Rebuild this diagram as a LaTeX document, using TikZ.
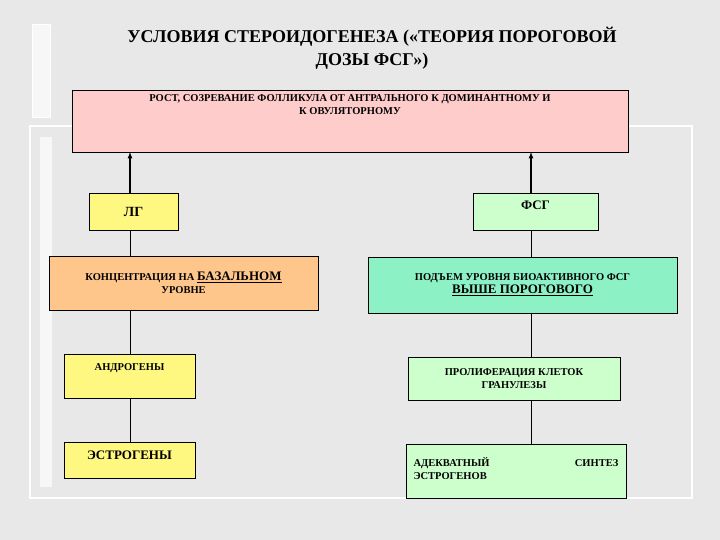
\documentclass[tikz,border=0pt]{standalone}
\usepackage{fontspec}
\setmainfont{Liberation Serif}
\definecolor{aqua}{HTML}{8CF2C6}
\begin{document}
\begin{tikzpicture}[x=1pt,y=-1pt,
  box/.style={draw=black,line width=0.9pt,font=\bfseries\fontsize{10.5}{13}\selectfont,align=center,inner sep=2pt},
  link/.style={line width=0.7pt},
  arr/.style={line width=1.2pt,-latex}]
\fill[gray!18] (0,0) rectangle (720,540);
\useasboundingbox (0,0) rectangle (720,540);
\draw[white,line width=1.2pt] (30,126) rectangle (692,498);
\fill[white!70!gray!20] (32,25) rectangle (50,118);
\draw[white,line width=1pt] (32,25) rectangle (50,118);
\fill[white!70!gray!20] (40,137) rectangle (52,487);
\node[font=\bfseries\fontsize{18}{23}\selectfont,align=center] (title) at (372,48)
  {УСЛОВИЯ СТЕРОИДОГЕНЕЗА («ТЕОРИЯ ПОРОГОВОЙ\\ДОЗЫ ФСГ»)};
\path[box,fill=red!20] (72,90) rectangle (628,152);
\node[box,draw=none,anchor=north] (top) at (350,92) {РОСТ, СОЗРЕВАНИЕ ФОЛЛИКУЛА ОТ АНТРАЛЬНОГО К ДОМИНАНТНОМУ И\\К ОВУЛЯТОРНОМУ};
\coordinate (topL) at (130,152);
\coordinate (topR) at (531,152);
\node[box,fill=yellow!50,minimum width=89pt,minimum height=37pt,font=\bfseries\fontsize{14}{16}\selectfont] (lg) at (133.5,211.5) {ЛГ};
\node[box,fill=green!20,minimum width=125pt,minimum height=37pt,font=\bfseries\fontsize{13}{15}\selectfont,text depth=12pt] (fsg) at (535.5,211.5) {ФСГ};
\node[box,fill=orange!45,minimum width=269pt,minimum height=54pt] (conc) at (183.5,283) {КОНЦЕНТРАЦИЯ НА {\fontsize{13}{15}\selectfont\underline{БАЗАЛЬНОМ}}\\УРОВНЕ};
\node[box,fill=aqua,minimum width=309pt,minimum height=56pt] (rise) at (522.5,285) {ПОДЪЕМ УРОВНЯ БИОАКТИВНОГО ФСГ\\{\fontsize{13}{15}\selectfont\underline{ВЫШЕ ПОРОГОВОГО}}};
\node[box,fill=yellow!50,minimum width=131pt,minimum height=44pt,text depth=18pt] (andro) at (129.5,376) {АНДРОГЕНЫ};
\node[box,fill=green!20,minimum width=212pt,minimum height=43pt] (prolif) at (514,378.5) {ПРОЛИФЕРАЦИЯ КЛЕТОК\\ГРАНУЛЕЗЫ};
\node[box,fill=yellow!50,minimum width=131pt,minimum height=36pt,text depth=10pt,font=\bfseries\fontsize{13}{15}\selectfont] (estr) at (129.5,460) {ЭСТРОГЕНЫ};
\node[box,fill=green!20,minimum width=220pt,minimum height=54pt,align=left,text width=205pt,text depth=18pt] (adeq) at (516,471) {АДЕКВАТНЫЙ\hfill СИНТЕЗ\\ЭСТРОГЕНОВ};
\draw[arr] (lg.north -| topL) -- (topL);
\draw[arr] (fsg.north -| topR) -- (topR);
\draw[link] (lg.south -| topL) -- (conc.north -| topL);
\draw[link] (conc.south -| topL) -- (andro.north -| topL);
\draw[link] (andro.south -| topL) -- (estr.north -| topL);
\draw[link] (fsg.south -| topR) -- (rise.north -| topR);
\draw[link] (rise.south -| topR) -- (prolif.north -| topR);
\draw[link] (prolif.south -| topR) -- (adeq.north -| topR);
\end{tikzpicture}
\end{document}
